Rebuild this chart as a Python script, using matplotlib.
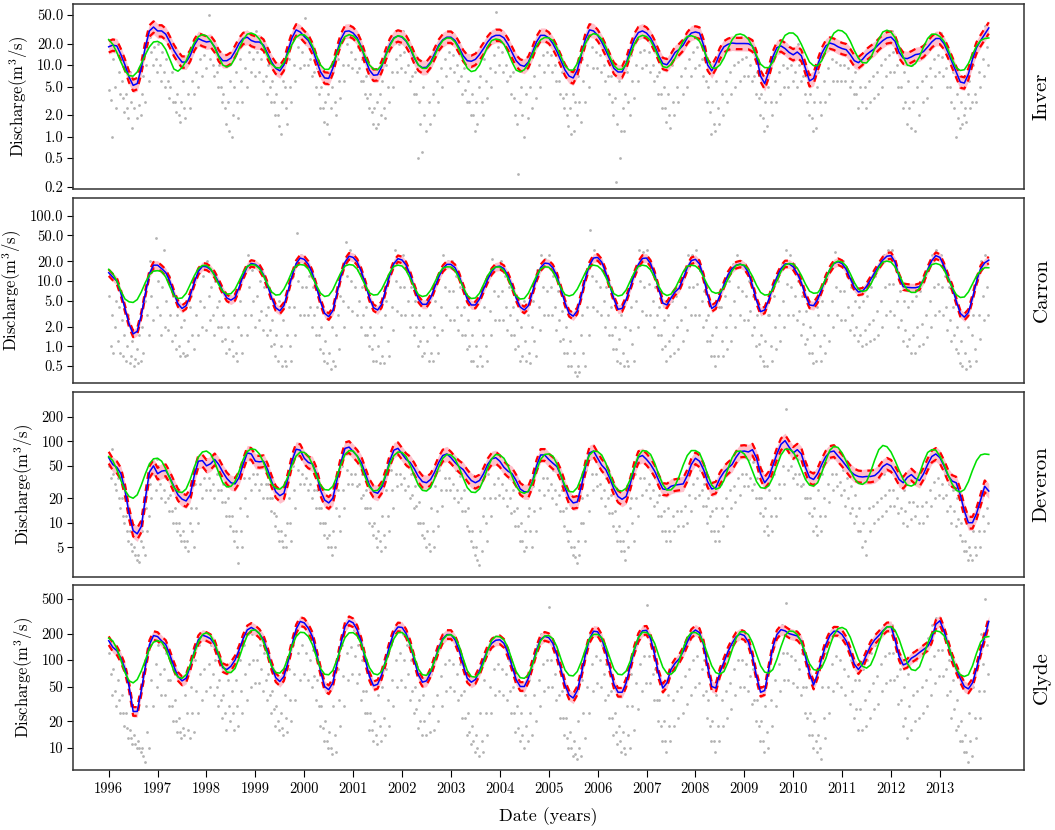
import numpy as np
import matplotlib.pyplot as plt
from matplotlib.ticker import FixedLocator, FormatStrFormatter, NullLocator

plt.rcParams['font.family'] = 'serif'
plt.rcParams['font.serif'] = ['cmr10']
plt.rcParams['mathtext.fontset'] = 'cm'
plt.rcParams['axes.unicode_minus'] = False
plt.rcParams['axes.formatter.use_mathtext'] = True

rivers = ['Inver', 'Carron', 'Deveron', 'Clyde']
years = list(range(1996, 2014))

# monthly samples 1996.0 ... 2014.0 (217 values): smoothed mean (blue) and seasonal fit (green)
inver_mean = [18, 19, 18.5, 14, 10, 6.8, 5.2, 5.5, 9, 18, 30, 34,
    30, 30, 27, 21, 16, 13, 11, 11, 13.5, 19, 23.5, 22,
    21, 21.5, 18, 13.5, 11.5, 11.5, 12.5, 15.5, 20, 23.5, 24.5, 22,
    21, 21, 19, 14.5, 11, 9, 8.3, 10, 16, 24, 31, 29,
    25, 22, 17, 11.5, 8, 6.6, 6.5, 9, 15, 23, 29.5, 30,
    28, 24, 18, 12, 8.5, 7.2, 7.3, 9.5, 14, 19.5, 24, 25.5,
    24.5, 21.5, 17, 12.5, 10, 9.2, 9.3, 11, 14.5, 19, 22.5, 24.5,
    24.5, 22, 17.5, 13.5, 11.5, 11.3, 12, 14, 17, 21, 24.5, 26,
    26, 24, 19.5, 15, 11.5, 10, 9.6, 11, 15, 21, 26, 26,
    24, 20, 15.5, 11.5, 8.5, 7, 6.6, 8.5, 14, 23, 31, 30,
    26, 21, 16, 12, 9, 8, 8, 10.5, 16, 23, 28.5, 30,
    28, 24, 18.5, 13.5, 10.5, 10.1, 12, 15, 16.5, 19, 24, 28,
    29, 28, 19, 10, 8.3, 10.5, 14.5, 18, 19.5, 20.3, 20, 20,
    20, 19.9, 18.5, 13, 7, 5.5, 8, 13, 17.5, 18.5, 17, 15,
    13.9, 15.2, 13.5, 9, 6, 6.5, 10, 14.5, 18.5, 20.3, 19.5, 18,
    17, 16.4, 14, 11.5, 10.8, 12, 14, 15.5, 17, 19.5, 22, 24,
    24.6, 21.5, 15, 12.5, 12.3, 13, 14, 14.3, 15.5, 17.9, 21, 23.5,
    23.5, 20, 15, 11, 8, 5.8, 5.6, 7.5, 12, 17.5, 22, 27,
    33]
inver_fit = [22.7, 19.5, 15, 11, 8.3, 7.1, 7.0, 8.0, 10.5, 14, 18, 21,
    21.4, 20, 16.5, 12, 8.8, 8.2, 9.2, 11.5, 15.5, 20.5, 25, 26.6,
    25.5, 22, 17.5, 13, 10, 9.4, 10, 12.5, 17, 22.5, 27, 28,
    26.5, 23, 18, 13.5, 10.3, 9.2, 9.1, 10.8, 14.5, 19.5, 24.5, 26.6,
    26.4, 23.5, 18.5, 13.5, 10, 8.7, 8.7, 10.5, 14.5, 20, 25, 26.6,
    25.5, 22.5, 17.5, 13, 10, 8.8, 8.6, 10, 13.5, 18.5, 23.5, 25.7,
    25, 22, 17.5, 13, 10, 9, 9, 10.5, 13.5, 18, 22, 23.9,
    23.8, 21, 16.5, 12, 9, 8.1, 8.4, 10, 13.5, 18, 22, 23.1,
    22.5, 19.5, 15, 11, 8.5, 8, 8.6, 10.5, 14, 18.5, 22.5, 24.3,
    24, 22, 17.5, 13, 9.8, 8.5, 8.5, 10.5, 14.5, 20, 25.5, 27.5,
    26.5, 23, 18, 13, 9.8, 8.7, 8.7, 10.2, 14, 19.5, 24.5, 26,
    25, 22, 17, 12.5, 9.5, 9.2, 10.2, 12.5, 16.5, 21.5, 25, 25.7,
    24.5, 21.5, 16.5, 12, 9.2, 9.0, 10, 12.5, 17, 22.5, 26.5, 27.2,
    26, 23, 18, 13.5, 10.3, 9.2, 9.2, 11, 15, 20.5, 26, 28.1,
    28, 25, 19.5, 14.5, 11, 9.8, 9.8, 11.5, 16, 22, 28, 30.7,
    30, 27, 21.5, 16, 12.5, 10.8, 10.7, 12.5, 17, 23, 29, 30.7,
    29, 24, 18, 13, 10, 9.6, 10.5, 13, 18, 23.5, 27, 27,
    25, 21.5, 16.5, 12, 9.2, 8.4, 8.6, 10.5, 14, 18.5, 22, 23.5,
    23.9]

carron_mean = [13.4, 11.5, 10, 6.5, 3.8, 2.2, 1.55, 1.7, 3, 6.5, 13, 17.5,
    17.5, 15.5, 13.5, 10, 6.5, 4.5, 3.8, 4.2, 6, 9.5, 14, 16.8,
    16.5, 15, 12.5, 9.5, 7, 5.5, 5.1, 5.6, 8, 12, 16.5, 18.6,
    18, 16, 12.5, 8.5, 5.5, 3.9, 3.5, 4.2, 7, 12, 18.5, 22.5,
    21.5, 18, 13, 8, 4.8, 3.2, 2.85, 3.5, 6.5, 12, 19.5, 24,
    23, 19.5, 14, 9, 5.5, 3.9, 3.6, 4.4, 7.5, 12.5, 18.5, 22,
    21, 17.5, 12.5, 8, 5.3, 4.4, 4.4, 5.5, 8, 11.5, 15.5, 18,
    18, 16, 12, 8, 5.3, 4.3, 4.3, 5.3, 7.5, 10.5, 14, 16.5,
    16.9, 15.5, 12, 8.5, 5.5, 4, 3.6, 4.2, 6.8, 11, 16, 18.8,
    18.5, 16, 12, 7.5, 4.6, 3.2, 2.9, 3.5, 6, 11, 17.5, 22.5,
    23, 19.5, 13.5, 8.5, 5.3, 3.7, 3.8, 5.2, 8, 12.5, 18, 22.2,
    22.5, 18.5, 12.5, 7.5, 4.6, 4.3, 5.5, 6.8, 7.8, 11, 16, 20.5,
    21.5, 18.3, 11.5, 6, 3.8, 4.2, 6, 8.8, 12.5, 15.5, 17.5, 18.2,
    17, 13.5, 8.5, 5, 3.4, 3.6, 5.2, 8, 11.5, 15.5, 18.3, 18.3,
    16.5, 13, 9.5, 6, 4.3, 4.2, 5.2, 7.5, 11, 15, 18.5, 19.8,
    18.5, 15, 11, 8, 6.8, 7, 8.3, 10.5, 13.5, 17, 21, 24,
    24.5, 19.5, 11.5, 8.2, 8, 7.9, 7.9, 8.2, 10.5, 15, 20.5, 24.5,
    23, 17, 11.5, 8, 5, 3.2, 2.8, 3.3, 5.5, 10, 15.5, 19,
    20.9]
carron_fit = [15.1, 13, 10, 7, 5.3, 4.8, 4.7, 5.2, 6.8, 9.5, 12.5, 14.2,
    14.4, 14, 11.5, 8.2, 6, 5.4, 5.5, 6.5, 8.8, 12, 15.5, 17.3,
    17.3, 15.5, 12, 8.8, 7, 6.3, 6.4, 7.5, 10, 13.5, 16.8, 17.9,
    17.5, 15.5, 12, 8.8, 6.8, 6.1, 6.2, 7.5, 10, 14, 17, 17.9,
    17.5, 15.2, 11.5, 8.5, 6.5, 5.8, 6, 7.3, 10, 13.5, 17, 17.9,
    17.5, 15.2, 11.5, 8.5, 6.6, 6.1, 6.2, 7.5, 10, 13.5, 16.8, 17.5,
    17, 14.5, 11, 8, 6.2, 5.8, 6, 7.2, 9.5, 12.8, 15.8, 16.5,
    16.4, 14.5, 11, 8, 6, 5.4, 5.5, 6.5, 8.8, 12, 15, 16.4,
    16.4, 14.5, 11, 7.8, 5.9, 5.3, 5.4, 6.5, 8.8, 12, 15.3, 16.5,
    16.3, 14, 10.5, 7.8, 6.2, 5.9, 6.2, 7.5, 10, 13.5, 16.8, 17.5,
    17, 15, 11.5, 8.3, 6.4, 5.9, 6.1, 7.3, 10, 13.5, 16.8, 17.5,
    17, 14.8, 11.3, 8.3, 6.5, 6, 6.3, 7.6, 10.3, 13.8, 16.8, 17.5,
    17, 15, 11.5, 8.6, 6.9, 6.5, 6.7, 8, 10.7, 14.3, 17.3, 17.9,
    17.5, 15.2, 11.8, 8.6, 6.7, 6.1, 6.2, 7.4, 10.2, 14, 17.6, 18.6,
    18.2, 15.8, 12.2, 9, 7, 6.5, 6.6, 8, 11, 15, 18.8, 20.2,
    19.5, 17, 13, 9.5, 7.5, 6.9, 7.2, 8.8, 12, 16, 19.5, 20.2,
    19.5, 16.5, 12.5, 9.2, 7.3, 6.7, 6.7, 7.8, 10.5, 14.5, 17.8, 18.6,
    17.8, 15, 11, 8, 6.2, 5.6, 5.7, 6.8, 9, 12, 14.5, 16,
    16.0]

deveron_mean = [63, 52, 48, 40, 25, 13, 8, 7.3, 9, 20, 42, 50,
    40, 43, 44, 36, 28, 22, 19.5, 18.5, 22, 38, 57, 58,
    50, 53, 60, 52, 42, 35, 31, 30, 36, 52, 72, 70,
    57, 56, 57, 45, 32, 24, 21.5, 23, 35, 58, 80, 78,
    62, 55, 53, 40, 25, 19, 17.5, 20, 33, 55, 82, 85,
    75, 66, 55, 40, 29, 24, 23, 27, 38, 58, 78, 82,
    70, 60, 55, 46, 37, 32, 31, 34, 42, 55, 67, 70,
    63, 55, 49, 45, 38, 33, 31, 33, 40, 52, 61, 63,
    57, 48, 43, 40, 33, 26, 24, 24, 32, 50, 68, 68,
    60, 54, 49, 38, 27, 20, 17.5, 18, 28, 48, 72, 76,
    62, 51, 45, 35, 26, 21, 19.4, 21, 30, 47, 64, 67,
    60, 52, 43, 33, 26, 25.5, 28, 29, 29.5, 30, 38, 52,
    62, 57, 45, 32, 26, 27, 35, 42, 47, 52, 64, 75,
    76, 74, 79, 62, 40, 31, 36, 50, 70, 92, 102, 85,
    72, 79, 70, 48, 36, 34, 40, 52, 65, 74, 76, 66,
    58, 50, 43, 39, 37, 36.5, 37, 37, 38, 42, 49, 53,
    50, 42, 34, 31, 36, 39, 35, 33, 40, 52, 65, 70,
    63, 50, 38, 32.5, 31, 22, 14, 10, 10, 13, 19, 28,
    24.5]
deveron_fit = [65, 58, 45, 33, 25, 21, 20, 22, 29, 40, 53, 61,
    62, 57, 46, 35, 27, 24, 23.5, 26, 34, 48, 64, 74,
    76, 70, 56, 41, 31, 27.5, 28, 32, 43, 60, 75, 81,
    79, 70, 55, 40, 30, 26.5, 25.8, 28.5, 37, 51, 66, 74,
    73, 66, 52, 38, 29, 25.5, 25.2, 28, 37, 52, 69, 77,
    76, 66, 50, 36, 27.5, 24.6, 25, 29, 39, 53, 67, 74,
    73, 65, 51, 38, 29, 25, 24.5, 27, 35, 48, 62, 69,
    68, 61, 48, 35.5, 27, 23.8, 23.5, 26, 34, 47, 61, 69,
    68, 62, 50, 37, 28, 24, 23, 24.5, 31, 44, 60, 69,
    70, 66, 53, 38, 28.5, 24.2, 23.9, 27, 36, 51, 68, 76,
    75, 68, 54, 39, 29, 25, 24.5, 26.5, 34, 48, 66, 77,
    76, 69, 54, 39, 29.5, 25.2, 25.3, 28.5, 37, 51, 67, 77,
    77, 72, 55, 39, 29, 25.8, 27, 33, 46, 63, 75, 76,
    70, 58, 43, 32, 27, 26.5, 28.5, 36, 50, 68, 80, 80,
    74, 60, 45, 34, 29, 28.2, 31, 41, 58, 78, 87, 84,
    72, 57, 44, 35, 30.5, 29.6, 32, 42, 59, 79, 89, 86,
    74, 58, 44, 34, 29, 28.2, 30, 40, 56, 73, 79, 78,
    66, 52, 39, 30, 25, 23.8, 25.5, 32, 44, 58, 68, 70,
    69]

clyde_mean = [166, 140, 128, 105, 80, 50, 26, 26, 45, 85, 150, 190,
    185, 165, 150, 115, 85, 65, 58, 62, 85, 125, 170, 192,
    185, 175, 150, 110, 82, 78, 85, 100, 130, 175, 220, 235,
    220, 200, 170, 125, 85, 63, 57, 65, 95, 150, 225, 275,
    265, 230, 185, 120, 75, 50, 46, 55, 90, 155, 240, 280,
    265, 220, 160, 100, 65, 51, 53, 68, 100, 150, 205, 238,
    235, 200, 150, 100, 68, 56, 58, 72, 100, 138, 175, 195,
    195, 170, 130, 88, 62, 56, 60, 75, 100, 130, 155, 168,
    170, 155, 120, 85, 60, 50, 50, 62, 90, 130, 172, 186,
    180, 155, 115, 78, 52, 40, 37, 45, 70, 115, 175, 213,
    210, 175, 125, 80, 53, 43, 43, 55, 85, 130, 180, 215,
    218, 175, 115, 68, 48, 55, 78, 92, 103, 125, 160, 200,
    220, 205, 150, 85, 50, 48, 72, 95, 125, 155, 185, 198,
    190, 160, 110, 65, 43, 45, 80, 140, 195, 222, 215, 200,
    194, 188, 165, 110, 70, 52, 70, 105, 150, 190, 213, 212,
    195, 165, 125, 90, 78, 90, 115, 145, 170, 190, 215, 238,
    240, 170, 110, 88, 92, 105, 112, 122, 132, 143, 175, 255,
    280, 215, 150, 105, 80, 62, 50, 47, 55, 80, 125, 185,
    275]
clyde_fit = [178, 165, 135, 100, 72, 58, 55, 60, 75, 100, 135, 160,
    166, 160, 135, 100, 75, 64, 62, 68, 88, 120, 160, 195,
    205, 190, 155, 115, 85, 73, 72, 80, 105, 145, 190, 218,
    220, 200, 160, 115, 85, 72, 71, 80, 105, 145, 185, 207,
    205, 185, 150, 108, 80, 69, 68, 76, 100, 138, 180, 204,
    205, 188, 152, 110, 82, 70, 68, 74, 95, 130, 175, 205,
    206, 188, 150, 108, 79, 68, 67, 75, 98, 132, 170, 192,
    194, 180, 145, 104, 76, 65, 64, 71, 93, 128, 168, 186,
    184, 170, 138, 100, 74, 63, 62, 68, 88, 122, 165, 188,
    190, 175, 142, 103, 77, 67, 66, 74, 96, 132, 175, 196,
    196, 180, 145, 106, 79, 69, 68, 75, 97, 135, 180, 207,
    206, 190, 155, 112, 83, 71, 69, 76, 98, 135, 180, 205,
    206, 193, 158, 116, 86, 72, 69, 74, 94, 130, 178, 210,
    210, 195, 158, 116, 86, 73, 71, 78, 102, 142, 190, 214,
    212, 195, 160, 120, 91, 78, 76, 82, 104, 145, 195, 228,
    235, 222, 182, 136, 102, 85, 81, 88, 112, 155, 210, 238,
    240, 218, 172, 125, 92, 78, 76, 84, 112, 155, 200, 215,
    210, 190, 150, 108, 80, 68, 65, 68, 86, 120, 160, 182,
    185]

# observed discharge, three readings per month (36 per year, 1996-2013)
inver_flow = [
    4.5, 3.2, 1.0, 12, 5, 2.5, 15, 8, 4, 6, 3.5, 2.2, 4, 2.5, 1.8, 8, 3, 1.3, 2.5, 5, 1.8, 6, 2.8, 2, 4, 7, 3, 10, 20, 6, 25, 15, 10, 18, 12, 8,
    20, 10, 6, 15, 8, 5, 12, 6, 3.5, 5, 8, 3, 3, 2.2, 4, 2, 1.6, 3, 6, 2.5, 1.8, 10, 4, 2.5, 15, 6, 4, 18, 8, 5, 22, 12, 7, 20, 14, 9,
    25, 50, 12, 20, 10, 7, 15, 8, 5, 10, 5, 3, 4, 2.5, 1.5, 3, 1.2, 6, 1.0, 2, 5, 8, 3, 1.8, 12, 6, 3, 20, 9, 5, 28, 15, 8, 25, 12, 7,
    30, 15, 8, 20, 12, 6, 15, 7, 4, 10, 5, 3, 6, 3, 2, 4, 2, 1.4, 1.1, 3, 6, 5, 2.5, 1.5, 12, 5, 3, 25, 10, 6, 35, 18, 9, 30, 15, 10,
    45, 20, 10, 25, 12, 7, 15, 8, 5, 9, 4, 2.5, 5, 2.5, 1.6, 3, 1.5, 4, 1.1, 2.5, 5, 8, 3, 2, 12, 6, 3.5, 25, 10, 6, 35, 20, 10, 30, 15, 9,
    25, 12, 8, 18, 9, 6, 12, 6, 4, 7, 3.5, 2.5, 4, 2.2, 1.5, 2.5, 1.3, 3, 1.5, 4, 2, 6, 2.5, 1.8, 10, 5, 3, 18, 8, 5, 25, 12, 8, 20, 14, 9,
    30, 15, 8, 20, 10, 6, 14, 7, 4, 8, 4, 0.5, 3, 1.5, 0.6, 5, 2, 1.2, 8, 3, 1.5, 10, 4, 2, 14, 6, 3, 20, 9, 5, 25, 12, 7, 22, 15, 9,
    28, 14, 8, 20, 10, 6, 14, 7, 4, 9, 4.5, 3, 6, 3, 2, 4, 2, 1.2, 3, 1.5, 5, 7, 3, 2, 12, 6, 3.5, 20, 9, 5, 28, 14, 8, 55, 18, 10,
    30, 15, 8, 22, 10, 6, 15, 7, 4, 8, 3.5, 2, 1.5, 0.3, 3, 5, 2, 1, 10, 4, 1.8, 12, 5, 2.5, 15, 7, 3.5, 22, 10, 5, 28, 14, 8, 25, 15, 10,
    25, 14, 8, 20, 10, 6, 14, 6, 4, 8, 3.5, 2.5, 4, 2, 1.4, 2.5, 1.1, 4, 1.2, 3, 2, 7, 3, 1.6, 12, 6, 3, 22, 10, 5, 35, 18, 9, 30, 15, 9,
    28, 14, 8, 20, 10, 6, 14, 7, 4, 7, 3, 2, 3.5, 0.23, 1.5, 6, 0.5, 1.2, 2.5, 1.2, 4, 8, 3, 2, 14, 6, 3.5, 22, 10, 6, 30, 15, 9, 28, 16, 10,
    30, 15, 8, 22, 10, 6, 15, 7, 4, 8, 4, 2.5, 5, 2.5, 1.6, 4, 2, 1.3, 10, 3, 2, 14, 5, 3, 16, 7, 4, 20, 9, 5, 25, 12, 7, 30, 15, 9,
    35, 18, 10, 25, 12, 7, 12, 6, 3, 5, 2.2, 1.1, 3, 1.5, 1.2, 6, 2.5, 1.5, 12, 4, 2, 15, 6, 3, 18, 8, 4, 20, 10, 5, 22, 11, 6, 25, 12, 7,
    25, 13, 7, 20, 10, 6, 15, 7, 4, 8, 3.5, 2, 4, 1.8, 1.2, 3, 1.4, 5, 8, 3, 2, 14, 6, 3, 18, 8, 4, 22, 10, 5, 20, 9, 5, 18, 10, 6,
    15, 8, 5, 20, 10, 6, 15, 7, 4, 7, 3, 2, 4, 1.8, 1.2, 3, 1.3, 5, 8, 3, 2, 14, 6, 3, 20, 9, 4, 25, 12, 6, 22, 11, 6, 20, 10, 6,
    20, 10, 6, 18, 9, 5, 14, 6, 4, 8, 4, 2.5, 10, 5, 3, 12, 5, 2.5, 14, 6, 3, 15, 7, 3.5, 18, 8, 4, 22, 10, 5, 25, 12, 7, 28, 14, 8,
    30, 15, 8, 22, 10, 5, 12, 5, 2.5, 8, 3, 1.5, 6, 2.5, 1.3, 10, 3, 1.2, 14, 5, 2, 15, 6, 3, 16, 7, 3.5, 20, 9, 5, 25, 12, 7, 28, 14, 8,
    28, 13, 7, 20, 9, 5, 12, 5, 3, 8, 2.5, 1.0, 4, 1.8, 1.3, 3, 1.5, 2, 2.5, 1.6, 4, 6, 2.5, 3, 10, 4, 3, 18, 8, 5, 25, 12, 7, 35, 18, 10]

carron_flow = [
    6, 1.0, 3, 0.8, 2, 5, 1.2, 4, 0.8, 2.5, 0.7, 1.5, 0.6, 1.0, 3, 0.55, 0.7, 1.2, 0.5, 0.65, 0.9, 0.55, 1.5, 0.6, 2, 0.8, 5, 8, 3, 1.5, 20, 6, 2.5, 15, 45, 4,
    10, 3, 1.5, 8, 30, 2, 5, 1.8, 12, 3, 1.2, 6, 1.5, 0.9, 3, 1.0, 0.7, 2, 0.8, 2.5, 0.7, 0.75, 1.2, 4, 6, 1.5, 0.9, 10, 3, 1.5, 15, 5, 2, 12, 4, 1.8,
    20, 6, 2.5, 8, 3, 1.5, 10, 4, 2, 5, 2, 1.2, 3, 1.3, 0.8, 2, 0.9, 6, 1.2, 0.7, 3, 0.8, 0.6, 2, 5, 1.5, 0.8, 12, 3, 1.5, 25, 8, 3, 15, 5, 2,
    18, 6, 2.5, 10, 3.5, 1.8, 8, 3, 1.5, 4, 1.8, 1, 2.5, 1.1, 0.7, 1.5, 0.6, 5, 1.0, 0.5, 2.5, 0.6, 0.5, 1.5, 4, 1, 0.6, 12, 4, 1.5, 55, 10, 3, 25, 8, 3,
    20, 8, 3, 12, 4, 2, 8, 3, 1.5, 4, 1.5, 0.9, 2, 0.8, 0.6, 1.2, 0.55, 3, 0.8, 0.45, 2, 0.6, 0.5, 1.5, 3, 0.9, 6, 15, 5, 2, 40, 12, 4, 30, 10, 3.5,
    25, 8, 3, 15, 5, 2, 8, 3, 1.5, 4, 1.5, 1, 2, 0.9, 0.6, 1.5, 0.6, 4, 1.0, 0.55, 2, 0.7, 0.55, 3, 5, 1.2, 0.7, 15, 4, 1.8, 30, 10, 3.5, 22, 8, 3,
    25, 8, 3, 15, 5, 2, 8, 3, 1.5, 5, 2, 1, 3, 1.2, 0.7, 2, 0.8, 5, 1.2, 0.6, 3, 0.8, 0.6, 2, 5, 1.5, 0.8, 12, 4, 1.8, 25, 8, 3, 20, 7, 2.5,
    20, 7, 2.5, 12, 4, 1.8, 8, 3, 1.5, 4, 1.5, 0.9, 2.5, 1.0, 0.6, 1.5, 0.6, 4, 1.0, 0.5, 2.5, 0.7, 0.5, 1.5, 4, 1, 0.6, 12, 3.5, 1.5, 22, 7, 2.5, 18, 6, 2.5,
    20, 7, 2.5, 12, 4, 1.8, 8, 3, 1.5, 4, 1.5, 0.9, 2.5, 1.0, 0.6, 2, 0.7, 5, 1.2, 0.6, 3, 0.8, 0.55, 2, 5, 1.2, 0.7, 15, 4, 1.8, 25, 8, 3, 22, 7, 3,
    25, 8, 3, 12, 4, 1.8, 7, 2.5, 1.2, 3.5, 1.3, 0.8, 2, 0.8, 0.5, 1.2, 0.5, 3, 0.8, 0.4, 0.35, 0.5, 0.4, 1.5, 3, 0.8, 0.5, 12, 4, 1.5, 60, 12, 4, 30, 10, 3.5,
    25, 8, 3, 15, 5, 2, 8, 3, 1.5, 4, 1.5, 0.9, 2, 0.9, 0.6, 1.3, 0.55, 3, 0.8, 0.5, 2, 0.6, 0.5, 1.8, 4, 1.1, 0.6, 15, 5, 2, 30, 10, 3.5, 28, 8, 3,
    30, 9, 3, 15, 5, 2, 8, 3, 1.5, 4, 1.5, 0.9, 2.5, 1.0, 0.6, 3, 1.2, 0.7, 5, 1.5, 0.8, 6, 2, 0.9, 8, 2.5, 1.2, 15, 4, 1.8, 25, 8, 3, 25, 8, 3,
    30, 9, 3, 15, 5, 2, 7, 2.5, 1.2, 3, 1.2, 0.7, 1.5, 0.7, 0.5, 2, 0.7, 4, 4, 1.2, 0.7, 6, 2, 0.9, 10, 3, 1.2, 18, 5, 2, 25, 8, 3, 20, 7, 2.5,
    18, 6, 2.5, 10, 3.5, 1.5, 6, 2, 1, 3, 1.1, 0.7, 1.5, 0.6, 0.5, 1.2, 0.5, 3, 3, 1, 0.6, 6, 2, 0.9, 10, 3, 1.2, 18, 5, 2, 30, 9, 3, 25, 8, 3,
    18, 6, 2.5, 10, 3.5, 1.5, 6, 2.2, 1.1, 3.5, 1.3, 0.8, 2, 0.8, 0.55, 1.5, 0.6, 4, 3, 1, 0.6, 5, 1.5, 0.8, 10, 3, 1.2, 18, 5, 2, 28, 8, 3, 20, 7, 2.5,
    20, 7, 2.5, 12, 4, 1.8, 8, 3, 1.5, 5, 2, 1.2, 4, 1.5, 1, 5, 1.8, 1.1, 6, 2.2, 1.2, 8, 2.5, 1.3, 12, 3.5, 1.5, 18, 5, 2, 25, 8, 3, 30, 9, 3.5,
    30, 9, 3, 15, 5, 2, 7, 2.5, 1.2, 5, 1.8, 1, 4, 1.3, 0.8, 5, 1.5, 0.8, 6, 2, 1, 7, 2.2, 1.1, 10, 3, 1.4, 15, 5, 2, 25, 8, 3, 30, 9, 3.5,
    25, 8, 3, 12, 4, 1.8, 8, 2.5, 1.2, 4, 1.5, 0.9, 2, 0.8, 0.55, 1.2, 0.5, 3, 0.8, 0.45, 2, 0.6, 0.5, 1.5, 3, 0.9, 0.6, 10, 3, 1.3, 20, 6, 2.5, 25, 8, 3]

deveron_flow = [
    50, 35, 80, 40, 30, 25, 35, 20, 15, 20, 12, 10, 12, 8, 6, 8, 5.5, 4.5, 5, 4, 3.5, 4, 3.3, 6, 8, 5, 4, 15, 8, 12, 30, 20, 45, 40, 25, 60,
    50, 30, 20, 45, 25, 18, 35, 20, 14, 22, 14, 10, 15, 10, 8, 10, 7, 6, 8, 6, 5, 6, 4.5, 10, 15, 8, 5, 30, 15, 10, 50, 30, 20, 60, 35, 25,
    60, 35, 25, 50, 30, 20, 60, 40, 25, 40, 25, 18, 30, 18, 12, 20, 12, 9, 12, 8, 6, 8, 5, 3.2, 15, 8, 5, 35, 20, 12, 60, 35, 25, 70, 40, 30,
    60, 40, 25, 50, 30, 20, 50, 30, 20, 30, 20, 14, 20, 13, 9, 12, 8, 6, 8, 6, 5, 7, 5, 10, 20, 10, 6, 50, 25, 15, 80, 45, 30, 70, 40, 30,
    60, 35, 25, 50, 30, 20, 45, 25, 15, 25, 15, 10, 15, 10, 7, 10, 6.5, 5, 7, 5, 4, 8, 5, 15, 25, 12, 8, 50, 25, 15, 80, 45, 30, 75, 40, 30,
    70, 40, 28, 55, 30, 20, 40, 22, 15, 25, 15, 10, 15, 9, 7, 10, 6.5, 5, 8, 6, 4.5, 12, 7, 5, 25, 12, 8, 45, 25, 15, 70, 40, 28, 75, 40, 30,
    60, 35, 25, 50, 28, 20, 40, 22, 15, 28, 16, 10, 18, 10, 7, 10, 6.5, 5, 8, 5.5, 4.5, 15, 8, 5, 28, 14, 9, 45, 25, 16, 60, 35, 25, 65, 35, 25,
    55, 30, 20, 45, 25, 18, 38, 20, 14, 25, 14, 9, 15, 8, 6, 8, 5, 4, 5, 3.5, 3, 8, 4.5, 12, 20, 10, 6, 40, 20, 12, 55, 30, 20, 60, 35, 22,
    55, 30, 20, 45, 25, 16, 35, 20, 13, 25, 14, 9, 15, 9, 6, 10, 6, 4.5, 8, 5, 12, 15, 8, 5, 28, 14, 8, 50, 25, 15, 65, 35, 22, 60, 35, 25,
    55, 30, 20, 45, 25, 17, 40, 22, 14, 25, 14, 9, 15, 8, 6, 8, 5, 4, 5, 3.8, 3.2, 6, 4, 10, 20, 10, 6, 45, 22, 14, 70, 40, 25, 70, 40, 28,
    55, 30, 20, 45, 25, 16, 35, 20, 13, 22, 13, 9, 14, 8, 6, 9, 6, 4.5, 6, 4.5, 3.5, 8, 5, 15, 20, 10, 6, 40, 20, 12, 60, 35, 22, 65, 35, 25,
    55, 30, 20, 45, 25, 16, 35, 18, 12, 22, 12, 8, 14, 8, 6, 15, 8, 6, 25, 12, 8, 28, 14, 9, 25, 14, 9, 30, 16, 10, 40, 22, 14, 55, 30, 20,
    60, 35, 22, 45, 25, 16, 30, 16, 10, 20, 12, 8, 14, 8, 6, 15, 8, 6, 30, 15, 9, 40, 20, 12, 45, 25, 15, 50, 28, 18, 60, 35, 22, 70, 40, 28,
    70, 40, 28, 60, 35, 25, 55, 30, 20, 35, 20, 13, 20, 12, 8, 15, 9, 7, 25, 12, 8, 40, 20, 12, 60, 30, 20, 100, 50, 30, 250, 80, 45, 90, 50, 35,
    70, 40, 30, 60, 40, 28, 55, 30, 20, 35, 20, 13, 20, 12, 8, 15, 9, 7, 25, 12, 8, 40, 20, 12, 55, 30, 18, 70, 40, 25, 70, 40, 28, 55, 32, 22,
    45, 25, 16, 35, 20, 13, 28, 15, 10, 22, 12, 8, 15, 8, 5, 10, 6, 4, 40, 15, 8, 35, 16, 10, 35, 18, 11, 35, 20, 12, 40, 22, 14, 45, 25, 16,
    45, 25, 16, 35, 20, 13, 28, 15, 10, 25, 14, 9, 35, 18, 11, 35, 18, 12, 30, 16, 10, 30, 16, 10, 35, 18, 12, 50, 25, 16, 60, 32, 20, 60, 35, 22,
    55, 30, 20, 40, 22, 14, 30, 16, 10, 25, 14, 9, 20, 11, 7, 10, 6, 4.5, 6, 4.5, 3.5, 5, 4, 3.5, 8, 5, 4, 15, 8, 5, 20, 12, 8, 25, 15, 10]

clyde_flow = [
    120, 70, 40, 80, 45, 30, 60, 35, 25, 40, 25, 18, 25, 17, 13, 16, 13, 11, 14, 11, 10, 12, 10, 9, 10, 8, 7, 30, 15, 10, 150, 60, 30, 200, 90, 50,
    150, 70, 40, 180, 80, 40, 120, 60, 30, 60, 30, 20, 35, 20, 15, 22, 15, 13, 17, 14, 40, 25, 16, 13, 50, 25, 15, 100, 45, 25, 150, 70, 35, 180, 80, 45,
    180, 90, 50, 150, 70, 40, 100, 50, 30, 60, 35, 22, 40, 25, 16, 60, 30, 20, 45, 25, 16, 60, 30, 18, 100, 45, 25, 150, 70, 35, 200, 90, 50, 200, 100, 55,
    200, 100, 55, 150, 80, 45, 120, 60, 35, 70, 40, 25, 45, 28, 18, 30, 20, 16, 25, 17, 14, 40, 22, 15, 80, 35, 20, 150, 70, 35, 250, 120, 60, 300, 150, 70,
    250, 120, 60, 200, 100, 50, 130, 65, 35, 60, 30, 18, 30, 17, 12, 20, 12, 10, 15, 10, 8.5, 30, 14, 9, 80, 35, 18, 150, 65, 30, 250, 120, 60, 280, 140, 70,
    220, 110, 55, 150, 70, 35, 100, 45, 25, 45, 25, 16, 25, 16, 12, 20, 14, 11, 40, 18, 12, 50, 22, 14, 80, 35, 18, 150, 60, 30, 220, 100, 50, 250, 120, 60,
    200, 100, 50, 150, 70, 35, 100, 45, 25, 50, 28, 17, 35, 20, 14, 40, 20, 14, 60, 25, 15, 70, 30, 16, 100, 40, 20, 150, 65, 30, 200, 90, 45, 200, 100, 50,
    180, 90, 45, 150, 70, 35, 90, 40, 22, 45, 22, 14, 25, 15, 11, 18, 12, 9, 14, 10, 8, 25, 12, 9, 60, 25, 14, 120, 50, 25, 180, 80, 40, 180, 90, 45,
    180, 80, 40, 150, 70, 35, 100, 45, 25, 50, 25, 15, 30, 17, 12, 25, 14, 10, 40, 18, 12, 60, 25, 14, 100, 40, 20, 150, 60, 30, 200, 90, 45, 200, 100, 50,
    400, 100, 50, 150, 70, 35, 90, 40, 22, 45, 22, 14, 22, 13, 10, 15, 10, 8, 12, 8.5, 7.5, 20, 10, 8, 60, 25, 13, 120, 50, 25, 200, 90, 45, 220, 110, 55,
    200, 100, 50, 150, 70, 35, 90, 40, 22, 45, 22, 14, 25, 15, 11, 18, 12, 9, 15, 10, 8.5, 30, 14, 10, 70, 30, 16, 130, 55, 28, 200, 90, 45, 220, 110, 55,
    420, 110, 55, 150, 70, 35, 80, 35, 20, 35, 18, 12, 20, 12, 9, 40, 18, 12, 80, 35, 18, 100, 45, 22, 120, 50, 25, 150, 65, 32, 180, 80, 40, 220, 100, 50,
    220, 110, 55, 180, 80, 40, 100, 45, 22, 35, 18, 12, 20, 12, 9, 40, 18, 12, 80, 35, 18, 100, 45, 22, 130, 55, 28, 180, 80, 40, 200, 100, 50, 220, 100, 50,
    200, 90, 45, 150, 65, 32, 80, 35, 20, 35, 18, 12, 20, 12, 9, 30, 15, 10, 80, 35, 18, 150, 60, 30, 200, 90, 45, 250, 120, 60, 450, 120, 60, 220, 110, 55,
    200, 100, 50, 180, 80, 40, 120, 50, 25, 50, 22, 14, 25, 14, 10, 20, 12, 9, 14, 10, 7.5, 50, 22, 13, 120, 50, 25, 200, 90, 45, 220, 110, 55, 200, 100, 50,
    180, 80, 40, 150, 65, 32, 100, 45, 22, 60, 28, 16, 60, 28, 16, 80, 35, 18, 100, 45, 22, 120, 55, 28, 150, 65, 32, 200, 90, 45, 250, 110, 55, 250, 120, 60,
    250, 120, 60, 150, 65, 32, 80, 35, 18, 50, 22, 13, 70, 30, 16, 100, 40, 20, 100, 45, 22, 120, 50, 25, 150, 60, 30, 180, 80, 40, 250, 110, 55, 300, 130, 65,
    280, 130, 65, 180, 80, 40, 100, 45, 22, 60, 28, 16, 35, 18, 12, 20, 12, 9, 14, 9, 7, 25, 12, 8, 50, 22, 13, 100, 45, 22, 200, 90, 45, 500, 150, 70]

t_month = 1996 + np.arange(217) / 12.0
t_flow = 1996 + (np.arange(648) + 0.5) / 36.0

panels = [
    (inver_flow, inver_mean, inver_fit, 1.2, 1.27, (0.185, 71), [0.2, 0.5, 1, 2, 5, 10, 20, 50], '%.1f'),
    (carron_flow, carron_mean, carron_fit, 1.12, 1.17, (0.275, 186), [0.5, 1, 2, 5, 10, 20, 50, 100], '%.1f'),
    (deveron_flow, deveron_mean, deveron_fit, 1.18, 1.24, (2.17, 406), [5, 10, 20, 50, 100, 200], '%d'),
    (clyde_flow, clyde_mean, clyde_fit, 1.12, 1.16, (5.66, 718), [10, 20, 50, 100, 200, 500], '%d'),
]
bottoms = [0.7723, 0.5386, 0.3052, 0.0727]

fig = plt.figure(figsize=(10.55, 8.3), dpi=100)
for i, (flow, mean, fit, rf, pf, ylim, yt, fmt) in enumerate(panels):
    ax = fig.add_axes([0.0692, bottoms[i], 0.9014, 0.2227])
    mean = np.array(mean, float)
    ax.scatter(t_flow, flow, s=4, color='#b3b3b3', linewidths=0, zorder=1)
    ax.fill_between(t_month, mean / pf, mean * pf, color='#ffc0cb', lw=0, zorder=2)
    ax.plot(t_month, mean * rf, color='red', ls=(0, (3, 2.5)), lw=1.6, zorder=3)
    ax.plot(t_month, mean / rf, color='red', ls=(0, (3, 2.5)), lw=1.6, zorder=3)
    ax.plot(t_month, mean, color='#0000ff', lw=1.1, zorder=4)
    ax.plot(t_month, fit, color='#00e000', lw=1.15, zorder=5)
    ax.set_yscale('log')
    ax.set_ylim(*ylim)
    ax.set_xlim(1995.27, 2014.72)
    ax.yaxis.set_major_locator(FixedLocator(yt))
    ax.yaxis.set_major_formatter(FormatStrFormatter(fmt))
    ax.yaxis.set_minor_locator(NullLocator())
    ax.tick_params(axis='y', direction='out', length=4, labelsize=10.5, pad=3)
    ax.set_ylabel('Discharge(m$^3$/s)', fontsize=12, labelpad=4)
    ax.text(1.009, 0.5, rivers[i], transform=ax.transAxes, rotation=90,
            ha='left', va='center', fontsize=15)
    for s in ax.spines.values():
        s.set_color('#333333')
        s.set_linewidth(1.1)
    if i < 3:
        ax.set_xticks([])
    else:
        ax.set_xticks(years)
        ax.set_xticklabels([str(y) for y in years])
        ax.tick_params(axis='x', direction='out', length=5, labelsize=10.5, pad=4)
        ax.set_xlabel('Date (years)', fontsize=13, labelpad=8)

plt.savefig('out.png', dpi=100)
